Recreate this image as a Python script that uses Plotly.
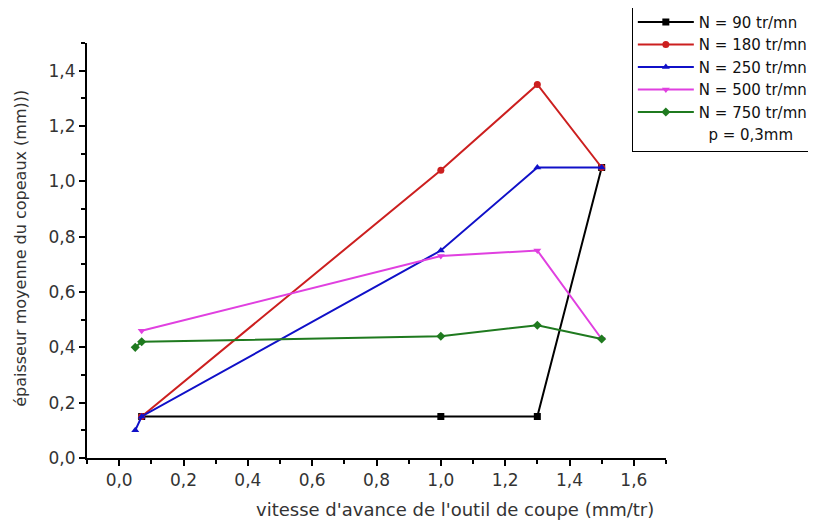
import plotly.graph_objects as go

# ---- data ----
x_n90 = [0.07, 1.0, 1.3, 1.5]
y_n90 = [0.15, 0.15, 0.15, 1.05]

x_n180 = [0.07, 1.0, 1.3, 1.5]
y_n180 = [0.15, 1.04, 1.35, 1.05]

x_n250 = [0.05, 0.07, 1.0, 1.3, 1.5]
y_n250 = [0.10, 0.15, 0.75, 1.05, 1.05]

x_n500 = [0.07, 1.0, 1.3, 1.5]
y_n500 = [0.46, 0.73, 0.75, 0.43]

x_n750 = [0.05, 0.07, 1.0, 1.3, 1.5]
y_n750 = [0.40, 0.42, 0.44, 0.48, 0.43]

names = ["N = 90 tr/mn", "N = 180 tr/mn", "N = 250 tr/mn", "N = 500 tr/mn", "N = 750 tr/mn"]
colors = ["#000000", "#cc1f1f", "#1010c8", "#e040e0", "#1f7a1f"]
symbols = ["square", "circle", "triangle-up", "triangle-down", "diamond"]
note = "\u00a0\u00a0p = 0,3mm"

x_title = "vitesse d'avance de l'outil de coupe (mm/tr)"
y_title = "épaisseur moyenne du copeaux (mm)))"

FONT = "DejaVu Sans"

fig = go.Figure()
series = [(x_n90, y_n90), (x_n180, y_n180), (x_n250, y_n250), (x_n500, y_n500), (x_n750, y_n750)]
for (xs, ys), nm, c, s in zip(series, names, colors, symbols):
    fig.add_trace(go.Scatter(
        x=xs, y=ys, name=nm, mode="lines+markers",
        line=dict(color=c, width=2),
        marker=dict(symbol=s, size=7, color=c),
    ))
# legend-only text entry
fig.add_trace(go.Scatter(x=[None], y=[None], name=note, mode="lines",
                         line=dict(color="rgba(0,0,0,0)", width=0)))

axis_common = dict(
    showline=True, linecolor="black", linewidth=2,
    showgrid=False, zeroline=False,
    ticks="outside", ticklen=6, tickwidth=2, tickcolor="black",
    tickfont=dict(family=FONT, size=17, color="#333333"),
    tickformat=".1f",
)

fig.update_xaxes(range=[-0.1, 1.7], tick0=0, dtick=0.2,
                 minor=dict(dtick=0.1, tick0=0, ticks="outside", ticklen=4, tickwidth=2, tickcolor="black"),
                 **axis_common)
fig.update_yaxes(range=[0, 1.5], tick0=0, dtick=0.2,
                 minor=dict(dtick=0.1, tick0=0, ticks="outside", ticklen=4, tickwidth=2, tickcolor="black"),
                 **axis_common)

fig.add_annotation(text=x_title, xref="paper", yref="paper", x=0.636, y=-0.125,
                   showarrow=False, xanchor="center", yanchor="middle",
                   font=dict(family=FONT, size=18, color="#333333"))
fig.add_annotation(text=y_title, xref="paper", yref="paper", x=-0.116, y=0.506,
                   showarrow=False, textangle=-90, xanchor="center", yanchor="middle",
                   font=dict(family=FONT, size=16, color="#333333"))

fig.update_layout(
    width=808, height=513,
    margin=dict(l=79, r=150, t=35, b=63, autoexpand=False),
    paper_bgcolor="white", plot_bgcolor="white",
    separators=", ",
    showlegend=True,
    legend=dict(
        x=0.941, y=1.092, xanchor="left", yanchor="top",
        bordercolor="black", borderwidth=1, bgcolor="white",
        font=dict(family=FONT, size=15, color="#111111"),
        itemwidth=56, tracegroupgap=0,
        entrywidth=170,
    ),
)

fig.write_html("out.html")
